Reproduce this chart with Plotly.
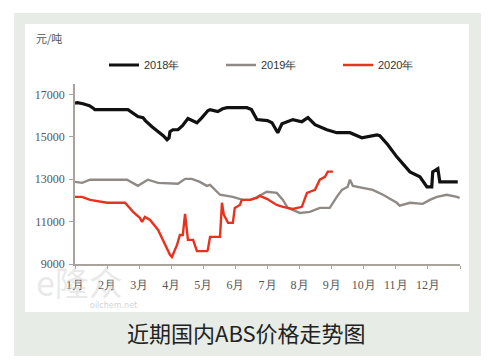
import plotly.graph_objects as go

# Month position (0 = 1月 start, 12 = year end) and price (元/吨)
m2018 = [0.00, 0.08, 0.25, 0.45, 0.58, 0.62, 1.65, 1.80, 1.96, 2.12, 2.20, 2.40, 2.60, 2.75, 2.87,
         2.93, 2.96, 3.05, 3.21, 3.35, 3.52, 3.62, 3.80, 3.95, 4.14, 4.21, 4.45, 4.60, 4.74, 5.36,
         5.50, 5.67, 6.00, 6.14, 6.32, 6.45, 6.54, 6.79, 7.07, 7.26, 7.48, 7.85, 8.16, 8.57, 8.94,
         9.41, 9.50, 9.75, 10.03, 10.25, 10.44, 10.75, 10.97, 11.12, 11.15, 11.31, 11.37, 11.93]
v2018 = [16600, 16620, 16570, 16480, 16340, 16290, 16290, 16150, 15960, 15910, 15760, 15480, 15250, 15060, 14870,
         14950, 15250, 15340, 15340, 15530, 15870, 15800, 15670, 15900, 16240, 16290, 16195, 16330, 16380, 16380,
         16290, 15820, 15770, 15670, 15200, 15620, 15670, 15820, 15720, 15910, 15580, 15340, 15200, 15200, 14960,
         15100, 15060, 14630, 14060, 13680, 13350, 13120, 12640, 12640, 13350, 13500, 12880, 12880]

m2019 = [0.00, 0.22, 0.47, 1.62, 1.96, 2.27, 2.59, 2.96, 3.21, 3.43, 3.64, 3.89, 4.11, 4.21, 4.52,
         4.92, 5.23, 5.47, 5.66, 5.98, 6.29, 6.48, 6.63, 7.01, 7.32, 7.63, 7.94, 8.16, 8.32, 8.50,
         8.57, 8.66, 8.97, 9.28, 9.60, 10.03, 10.12, 10.44, 10.84, 11.06, 11.28, 11.59, 11.90, 11.99]
v2019 = [12880, 12830, 12980, 12980, 12690, 12980, 12830, 12790, 12790, 13020, 13020, 12880, 12690, 12740, 12270,
         12170, 12030, 12030, 12150, 12410, 12360, 12030, 11650, 11410, 11460, 11650, 11650, 12170, 12500, 12650,
         12980, 12690, 12600, 12500, 12270, 11890, 11750, 11890, 11840, 12030, 12170, 12270, 12170, 12120]

m2020 = [0.00, 0.22, 0.47, 1.00, 1.56, 1.81, 2.02, 2.09, 2.18, 2.34, 2.59, 2.74, 2.96, 3.02, 3.18,
         3.27, 3.36, 3.43, 3.52, 3.68, 3.80, 4.11, 4.14, 4.21, 4.52, 4.58, 4.64, 4.77, 4.92, 4.98,
         5.14, 5.20, 5.45, 5.67, 5.76, 5.98, 6.29, 6.48, 6.79, 7.07, 7.23, 7.48, 7.63, 7.79, 7.88, 8.04]
v2020 = [12170, 12170, 12030, 11890, 11890, 11460, 11180, 10990, 11220, 11080, 10610, 10140, 9430, 9330, 9900,
         10370, 10370, 11370, 10140, 10140, 9610, 9610, 9660, 10280, 10280, 11890, 11320, 10940, 10940, 11650,
         11790, 12030, 12030, 12120, 12220, 12080, 11790, 11700, 11600, 11700, 12360, 12500, 12980, 13120, 13360, 13360]

month_ticks = list(range(13))
month_labels = ["1月", "2月", "3月", "4月", "5月", "6月", "7月", "8月", "9月", "10月", "11月", "12月", ""]
y_ticks = [9000, 11000, 13000, 15000, 17000]
y_labels = ["9000", "11000", "13000", "15000", "17000"]

series = [
    ("2018年", m2018, v2018, "#111111", 3.2),
    ("2019年", m2019, v2019, "#8f8a86", 2.4),
    ("2020年", m2020, v2020, "#e8321e", 2.4),
]

fig = go.Figure()
for name, xs, ys, col, w in series:
    fig.add_trace(go.Scatter(x=xs, y=ys, mode="lines", name=name,
                             line=dict(color=col, width=w)))

L, R, T, B = 75, 31, 84, 96
W, H = 491, 360
pw, ph = W - L - R, H - T - B

def px(x):
    return (x - L) / pw

def py(y):
    return 1 - (y - T) / ph

shapes = [
    dict(type="rect", xref="paper", yref="paper", x0=px(14), x1=px(481), y0=py(356), y1=py(13),
         fillcolor="#e7ece6", line=dict(width=0), layer="below"),
    dict(type="rect", xref="paper", yref="paper", x0=px(25), x1=px(469), y0=py(312), y1=py(24),
         fillcolor="#ffffff", line=dict(width=0), layer="below"),
]

annotations = [
    dict(text="元/吨", xref="paper", yref="paper", x=px(34), y=py(38), xanchor="left", yanchor="middle",
         showarrow=False, font=dict(family="Noto Sans CJK SC", size=11, color="#555555")),
    dict(text="e隆众", xref="paper", yref="paper", x=px(34), y=py(281), xanchor="left", yanchor="middle",
         showarrow=False, font=dict(family="Noto Sans CJK SC", size=34, color="rgba(205,205,205,0.45)")),
    dict(text="oilchem.net", xref="paper", yref="paper", x=px(88), y=py(305), xanchor="left", yanchor="middle",
         showarrow=False, font=dict(family="DejaVu Sans", size=8, color="rgba(190,190,190,0.7)")),
    dict(text="近期国内ABS价格走势图", xref="paper", yref="paper", x=px(246), y=py(332),
         xanchor="center", yanchor="middle", showarrow=False,
         font=dict(family="Noto Sans CJK SC", size=22, color="#222222")),
]

fig.update_layout(
    width=W, height=H,
    margin=dict(l=L, r=R, t=T, b=B, pad=0),
    paper_bgcolor="#ffffff",
    plot_bgcolor="rgba(0,0,0,0)",
    shapes=shapes,
    annotations=annotations,
    showlegend=True,
    legend=dict(orientation="h", x=px(104), y=py(65), xanchor="left", yanchor="middle",
                entrywidth=72, entrywidthmode="pixels", bgcolor="rgba(0,0,0,0)",
                font=dict(family="Liberation Sans", size=11, color="#333333"),
                itemwidth=30, tracegroupgap=0),
    xaxis=dict(range=[0, 12], tickmode="array", tickvals=month_ticks, ticktext=month_labels,
               showgrid=False, zeroline=False, showline=True, linecolor="#a9a39e", linewidth=1.5,
               ticks="outside", ticklen=3, tickcolor="#a9a39e", ticklabelstandoff=6,
               tickfont=dict(family="Liberation Serif", size=12, color="#555555"),
               fixedrange=True),
    yaxis=dict(range=[9000, 17500], tickmode="array", tickvals=y_ticks, ticktext=y_labels,
               showgrid=False, zeroline=False, showline=True, linecolor="#a9a39e", linewidth=1.5,
               ticks="outside", ticklen=4, tickcolor="#a9a39e", ticklabelstandoff=2,
               tickfont=dict(family="Liberation Serif", size=12, color="#555555"),
               fixedrange=True),
)

fig.write_html("out.html", config={"displayModeBar": False},
               post_script="document.body.style.margin='0';document.body.style.overflow='hidden';")
